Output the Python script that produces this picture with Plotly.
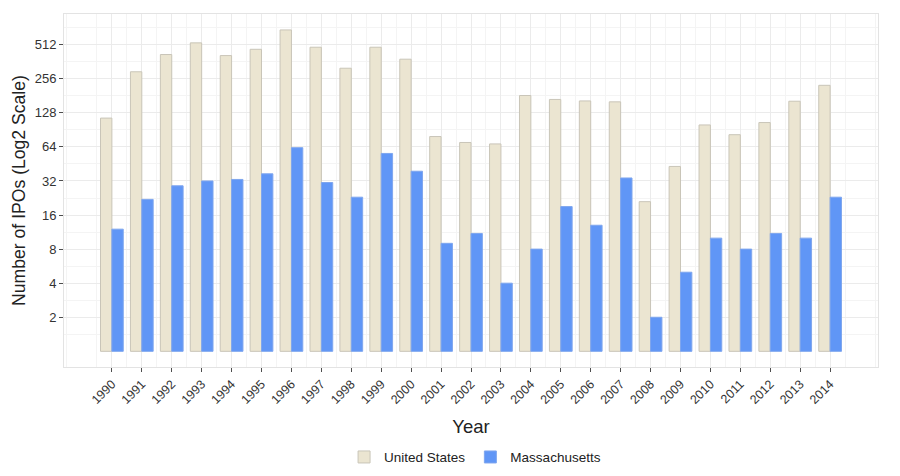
import numpy as np
import plotly.graph_objects as go

years = list(range(1990, 2015))

# IPO counts (log2 scale)
us_ipos = [115, 295, 419, 531, 410, 466, 691, 486, 317, 486, 381, 79,
           70, 68, 182, 168, 163, 160, 21, 43, 100, 82, 105, 162, 224]
ma_ipos = [12, 22, 29, 32, 33, 37, 63, 31, 23, 56, 39, 9,
           11, 4, 8, 19, 13, 34, 2, 5, 10, 8, 11, 10, 23]

tick_vals = [2, 4, 8, 16, 32, 64, 128, 256, 512]

fig = go.Figure()
fig.add_trace(go.Bar(x=years, y=np.log2(us_ipos), name="United States",
                     marker=dict(color="#EBE5D1", line=dict(color="#C9C5B8", width=1))))
fig.add_trace(go.Bar(x=years, y=np.log2(ma_ipos), name="Massachusetts",
                     marker=dict(color="#6096F6", line=dict(color="#7FA6EE", width=1))))

# body keeps its 8px margin, so the figure is a bit smaller than the window
fig.update_layout(
    width=884, height=471,
    margin=dict(l=56, r=14, t=6, b=104),
    paper_bgcolor="white", plot_bgcolor="white",
    barmode="group", bargap=0.24, bargroupgap=0,
    font=dict(family="Liberation Sans, Arial", color="#333333"),
    legend=dict(orientation="h", x=0.505, xanchor="center", y=-0.2555, yanchor="middle",
                font=dict(size=13.5, color="#222222"), traceorder="normal",
                itemwidth=30),
)
fig.update_xaxes(
    automargin=False,
    range=[1988.4, 2015.6], tickmode="array", tickvals=years, tickangle=-45,
    tickfont=dict(size=12.5, color="#333333"),
    ticks="outside", ticklen=4, tickcolor="#4D4D4D",
    showgrid=True, gridcolor="#EBEBEB", gridwidth=1,
    minor=dict(tick0=1990.5, dtick=1, showgrid=True, gridcolor="#F4F4F4"),
    zeroline=False, showline=True, mirror=True, linecolor="#E3E3E3",
    title=dict(text="Year", font=dict(size=18.5, color="#222222"), standoff=14),
)
fig.update_yaxes(
    automargin=False,
    range=[-0.46, 9.9], tickmode="array", tickvals=np.log2(tick_vals),
    ticktext=[str(v) for v in tick_vals],
    tickfont=dict(size=13, color="#333333"),
    ticks="outside", ticklen=4, tickcolor="#4D4D4D",
    showgrid=True, gridcolor="#EBEBEB", gridwidth=1,
    minor=dict(tick0=0.5, dtick=1, showgrid=True, gridcolor="#F4F4F4"),
    zeroline=False, showline=True, mirror=True, linecolor="#E3E3E3",
    title=dict(text="Number of IPOs (Log2 Scale)", font=dict(size=17.6, color="#222222"), standoff=4),
)

fig.write_html("out.html")
